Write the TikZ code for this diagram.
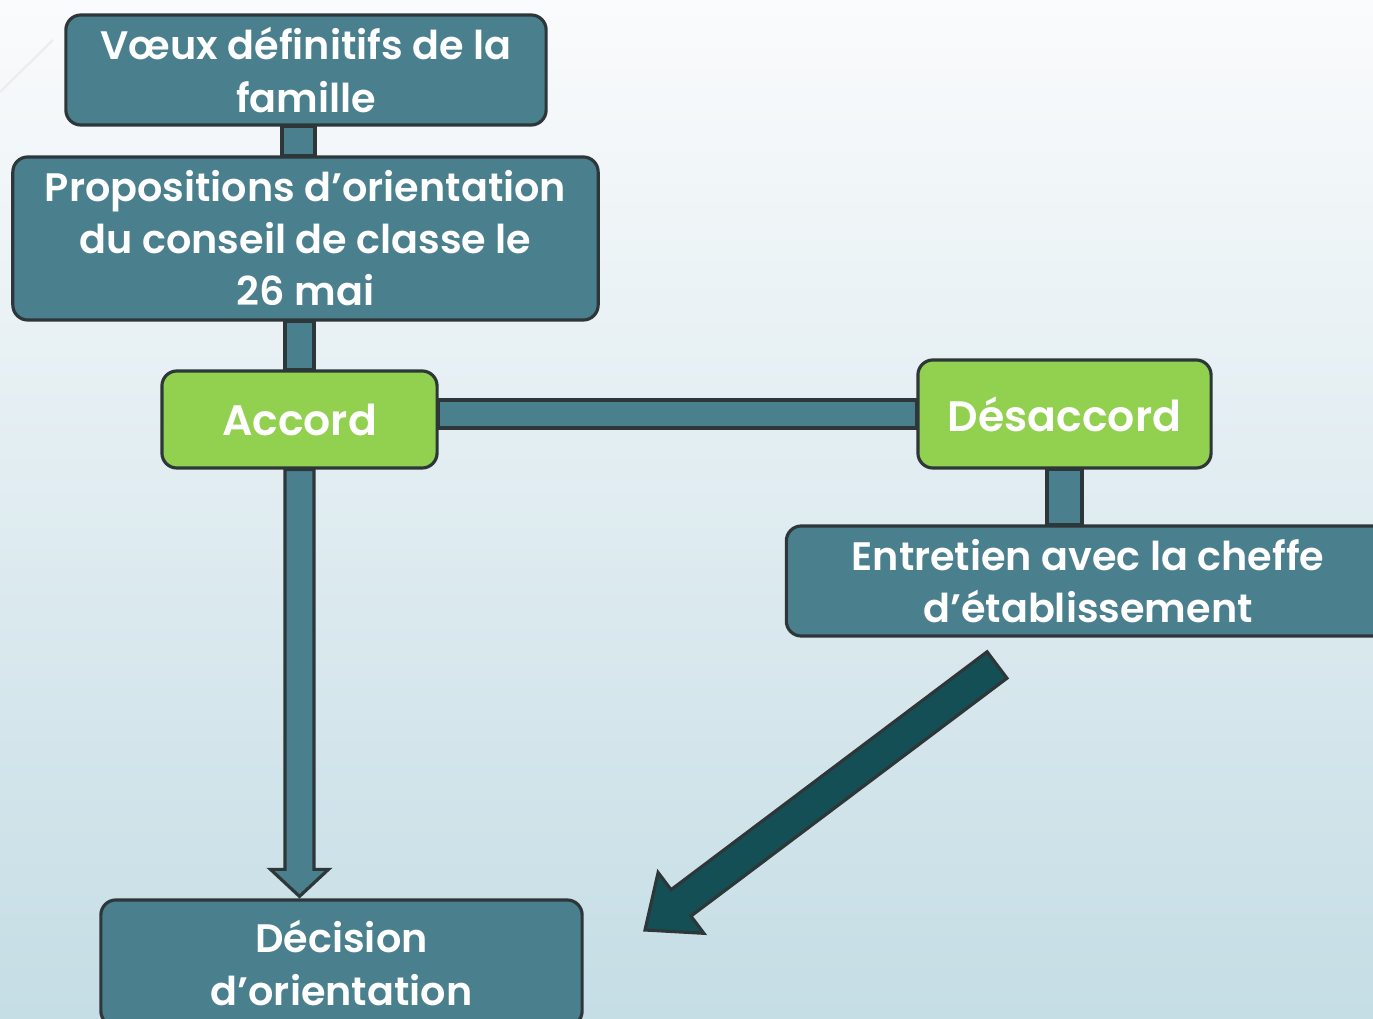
\documentclass[tikz,border=0pt]{standalone}
\usepackage{fontspec}
\setmainfont{Poppins}
\newfontfamily\boxfont{Poppins SemiBold}
\usetikzlibrary{calc}

\definecolor{boxteal}{RGB}{74,128,142}
\definecolor{boxline}{RGB}{45,55,58}
\definecolor{boxgreen}{RGB}{146,208,80}
\definecolor{arrowteal}{RGB}{19,79,84}
\definecolor{bgtop}{RGB}{250,251,252}
\definecolor{bgbot}{RGB}{197,221,229}

\begin{document}
\begin{tikzpicture}[x=0.01cm, y=-0.01cm,
    box/.style={
        draw=boxline,
        line width=0.9pt,
        fill=boxteal,
        rounded corners=0.15cm,
        text=white,
        align=center,
        inner sep=0pt,
        font=\fontsize{11.3}{14.8}\selectfont\boxfont
    },
    choice/.style={
        box,
        fill=boxgreen,
        font=\fontsize{12.1}{16}\selectfont\boxfont
    },
    bar/.style={
        draw=boxline,
        line width=0.9pt,
        fill=boxteal
    }
]

% --- Background ---
\clip (0,0) rectangle (1373,1019);
\shade[top color=bgtop, bottom color=bgbot] (0,0) rectangle (1373,1019);
\draw[gray!15, line width=0.6pt] (0,92) -- (53,40);

% --- Boxes ---
\node[box, minimum width=4.8cm, minimum height=1.1cm] (voeux) at (306,70)
    {Vœux définitifs de la\\famille};
\node[box, minimum width=5.85cm, minimum height=1.63cm] (props) at (305.5,238.5)
    {Propositions d’orientation\\du conseil de classe le\\26 mai};
\node[choice, minimum width=2.75cm, minimum height=0.97cm] (accord) at (299.5,419.5)
    {Accord};
\node[choice, minimum width=2.93cm, minimum height=1.08cm] (desaccord) at (1064.5,414)
    {Désaccord};
\node[box, minimum width=6.03cm, minimum height=1.1cm] (entretien) at (1088,581)
    {Entretien avec la cheffe\\d’établissement};
\node[box, minimum width=4.81cm, minimum height=1.26cm] (decision) at (341.5,963)
    {Décision\\d’orientation};

% --- Links ---
\draw[bar] ([xshift=-0.24cm]voeux.south) rectangle ([xshift=0.095cm]props.north);
\draw[bar] ([xshift=-0.205cm]props.south) rectangle ([xshift=0.145cm]accord.north);
\draw[bar] ([yshift=0.195cm]accord.east) rectangle ([yshift=-0.14cm]desaccord.west);
\draw[bar] ([xshift=-0.175cm]desaccord.south) rectangle ([xshift=-0.06cm]entretien.north);

% --- Arrow Accord -> Decision ---
\coordinate (dtip) at ([yshift=0.02cm]accord.south |- decision.north);
\draw[bar] ([xshift=-0.145cm]accord.south)
    -- ([xshift=-0.145cm,yshift=0.27cm]dtip)
    -- ([xshift=-0.29cm,yshift=0.27cm]dtip)
    -- (dtip)
    -- ([xshift=0.29cm,yshift=0.27cm]dtip)
    -- ([xshift=0.145cm,yshift=0.27cm]dtip)
    -- ([xshift=0.145cm]accord.south) -- cycle;

% --- Arrow Entretien -> Decision ---
\coordinate (ttail) at (997,665);
\coordinate (ttip) at (645,930);
\coordinate (thead) at ($(ttip)!0.45cm!(ttail)$);
\draw[draw=boxline, line width=0.9pt, fill=arrowteal]
    ($(ttail)!0.165cm!90:(ttip)$)
    -- ($(thead)!0.165cm!-90:(ttail)$)
    -- ($(thead)!0.38cm!-90:(ttail)$)
    -- (ttip)
    -- ($(thead)!0.38cm!90:(ttail)$)
    -- ($(thead)!0.165cm!90:(ttail)$)
    -- ($(ttail)!0.165cm!-90:(ttip)$) -- cycle;

\end{tikzpicture}
\end{document}
